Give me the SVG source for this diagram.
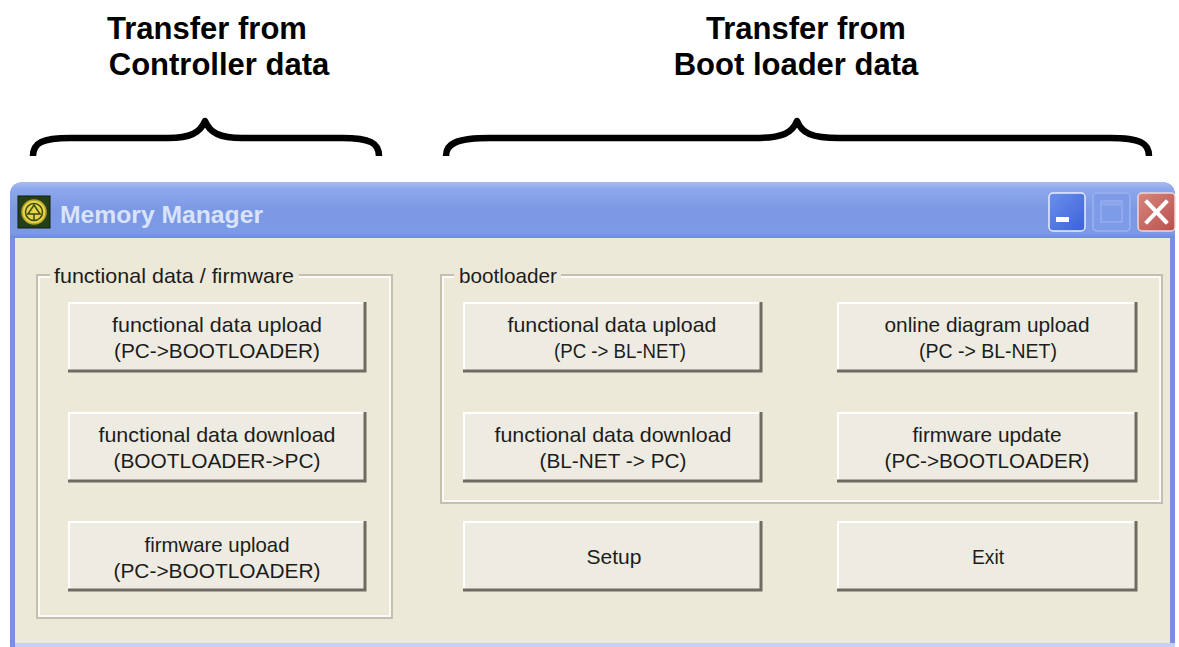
<svg xmlns="http://www.w3.org/2000/svg" width="1179" height="647" viewBox="0 0 1179 647">
<defs>
<linearGradient id="tb" x1="0" y1="0" x2="0" y2="1">
<stop offset="0" stop-color="#A9BCF2"/>
<stop offset="0.12" stop-color="#8DA8EC"/>
<stop offset="0.5" stop-color="#7C98E4"/>
<stop offset="0.9" stop-color="#7D9AE6"/>
<stop offset="1" stop-color="#6F8CDC"/>
</linearGradient>
<linearGradient id="minb" x1="0" y1="0" x2="1" y2="1">
<stop offset="0" stop-color="#6C90EE"/>
<stop offset="1" stop-color="#3A62D6"/>
</linearGradient>
<linearGradient id="clsb" x1="0" y1="0" x2="1" y2="1">
<stop offset="0" stop-color="#D7867A"/>
<stop offset="1" stop-color="#B85050"/>
</linearGradient>
</defs>
<style>
.hdr{font-family:"Liberation Sans",Arial,sans-serif;font-weight:bold;font-size:31px;fill:#000;text-anchor:middle}
.brace{fill:none;stroke:#000;stroke-width:6.5;stroke-linecap:butt;stroke-linejoin:round}
.face{fill:#EEECE2}
.hi{fill:none;stroke:#FFFFFF;stroke-width:2}
.sh{fill:none;stroke:#6E6C62;stroke-width:3}
.bt{font-family:"Liberation Sans",Arial,sans-serif;font-size:21px;fill:#1C1C1C;text-anchor:middle}
.gl{font-family:"Liberation Sans",Arial,sans-serif;font-size:21px;fill:#1C1C1C}
.g1{fill:none;stroke:#C2C0B0;stroke-width:2}
.g2{fill:none;stroke:#FFFFFF;stroke-width:1.5}
</style>
<rect x="0" y="0" width="1179" height="647" fill="#FFFFFF"/>

<g id="header-left">
<text class="hdr" x="207" y="39">Transfer from</text>
<text class="hdr" x="219" y="75">Controller data</text>
<path class="brace" d="M33 156 C33 143 42 138 70 138 L168 138 C190 138 200 133 205 121 C210 133 220 138 242 138 L342 138 C370 138 379 143 379 156"/>
</g>
<g id="header-right">
<text class="hdr" x="806" y="39">Transfer from</text>
<text class="hdr" x="796" y="75">Boot loader data</text>
<path class="brace" d="M446 156 C446 143 458 138 490 138 L755 138 C783 138 792 133 797 121 C802 133 811 138 839 138 L1110 138 C1140 138 1149 143 1149 156"/>
</g>

<g id="window">
<path d="M10 196 Q10 182 24 182 L1161 182 Q1175 182 1175 196 L1175 647 L10 647 Z" fill="#7A8FDE"/>
<path d="M10 196 Q10 182 24 182 L1161 182 Q1175 182 1175 196 L1175 238 L10 238 Z" fill="url(#tb)"/>
<rect x="15" y="238" width="1155" height="405" fill="#ECE9D8"/>
<rect x="15" y="643" width="1160" height="4" fill="#C7CFF2"/>
<g id="icon">
<rect x="18" y="196" width="32" height="32" fill="#24401A" stroke="#0E1E08" stroke-width="1"/>
<circle cx="34" cy="212" r="12" fill="#E6D54A" stroke="#B9A22A" stroke-width="1.5"/>
<circle cx="34" cy="212" r="8.5" fill="none" stroke="#3A4A10" stroke-width="1.5"/>
<path d="M28 214 L34 205 L40 214 M27 214 L41 214 M34 214 L34 220" fill="none" stroke="#3A4A10" stroke-width="1.5"/>
</g>
<text x="60" y="223" font-family="Liberation Sans,Arial,sans-serif" font-weight="bold" font-size="24.5" fill="#D9E4FA" textLength="203" lengthAdjust="spacingAndGlyphs">Memory Manager</text>
<g id="btn-min">
<rect x="1049" y="193" width="36" height="38" rx="4" fill="url(#minb)" stroke="#E8EEFF" stroke-width="1.5"/>
<rect x="1056" y="217" width="13" height="5" fill="#FFFFFF"/>
</g>
<g id="btn-max">
<rect x="1093" y="193" width="37" height="38" rx="4" fill="#7E9BE8" stroke="#9AB2F0" stroke-width="1.5"/>
<rect x="1101" y="201" width="21" height="21" fill="none" stroke="#90A9EE" stroke-width="2"/>
<line x1="1101" y1="204" x2="1122" y2="204" stroke="#90A9EE" stroke-width="3"/>
</g>
<g id="btn-close">
<rect x="1138" y="193" width="37" height="38" rx="4" fill="url(#clsb)" stroke="#F0D8D8" stroke-width="1.5"/>
<path d="M1147 202 L1166 222 M1166 202 L1147 222" stroke="#FFFFFF" stroke-width="4" stroke-linecap="square"/>
</g>
</g>

<g id="group-functional">
<rect class="g1" x="37" y="275" width="355" height="343"/>
<rect class="g2" x="39" y="277" width="351" height="339"/>
<rect x="50" y="266" width="249" height="16" fill="#ECE9D8"/>
<text class="gl" x="54" y="283" textLength="240" lengthAdjust="spacingAndGlyphs">functional data / firmware</text>
</g>
<g id="group-bootloader">
<rect class="g1" x="441" y="275" width="721" height="228"/>
<rect class="g2" x="443" y="277" width="717" height="224"/>
<rect x="454" y="266" width="107" height="16" fill="#ECE9D8"/>
<text class="gl" x="459" y="283" textLength="98" lengthAdjust="spacingAndGlyphs">bootloader</text>
</g>

<g id="btn-fd-upload-pc">
<rect class="face" x="68" y="302" width="298" height="70"/>
<polyline class="hi" points="69,371 69,303 365,303"/>
<polyline class="sh" points="68,371 365,371 365,302"/>
<text class="bt" x="217" y="332" textLength="210" lengthAdjust="spacingAndGlyphs">functional data upload</text>
<text class="bt" x="217" y="358" textLength="206" lengthAdjust="spacingAndGlyphs">(PC-&gt;BOOTLOADER)</text>
</g>
<g id="btn-fd-download-pc">
<rect class="face" x="68" y="412" width="298" height="70"/>
<polyline class="hi" points="69,481 69,413 365,413"/>
<polyline class="sh" points="68,481 365,481 365,412"/>
<text class="bt" x="217" y="442" textLength="237" lengthAdjust="spacingAndGlyphs">functional data download</text>
<text class="bt" x="217" y="468" textLength="207" lengthAdjust="spacingAndGlyphs">(BOOTLOADER-&gt;PC)</text>
</g>
<g id="btn-fw-upload">
<rect class="face" x="68" y="521" width="298" height="70"/>
<polyline class="hi" points="69,590 69,522 365,522"/>
<polyline class="sh" points="68,590 365,590 365,521"/>
<text class="bt" x="217" y="552" textLength="145" lengthAdjust="spacingAndGlyphs">firmware upload</text>
<text class="bt" x="217" y="578" textLength="207" lengthAdjust="spacingAndGlyphs">(PC-&gt;BOOTLOADER)</text>
</g>

<g id="btn-bl-fd-upload">
<rect class="face" x="463" y="302" width="299" height="70"/>
<polyline class="hi" points="464,371 464,303 761,303"/>
<polyline class="sh" points="463,371 761,371 761,302"/>
<text class="bt" x="612" y="332" textLength="209" lengthAdjust="spacingAndGlyphs">functional data upload</text>
<text class="bt" x="620" y="358" textLength="132" lengthAdjust="spacingAndGlyphs">(PC -&gt; BL-NET)</text>
</g>
<g id="btn-bl-fd-download">
<rect class="face" x="463" y="412" width="299" height="70"/>
<polyline class="hi" points="464,481 464,413 761,413"/>
<polyline class="sh" points="463,481 761,481 761,412"/>
<text class="bt" x="613" y="442" textLength="237" lengthAdjust="spacingAndGlyphs">functional data download</text>
<text class="bt" x="613" y="468" textLength="147" lengthAdjust="spacingAndGlyphs">(BL-NET -&gt; PC)</text>
</g>
<g id="btn-online-upload">
<rect class="face" x="837" y="302" width="300" height="70"/>
<polyline class="hi" points="838,371 838,303 1136,303"/>
<polyline class="sh" points="837,371 1136,371 1136,302"/>
<text class="bt" x="987" y="332" textLength="205" lengthAdjust="spacingAndGlyphs">online diagram upload</text>
<text class="bt" x="988" y="358" textLength="138" lengthAdjust="spacingAndGlyphs">(PC -&gt; BL-NET)</text>
</g>
<g id="btn-fw-update">
<rect class="face" x="837" y="412" width="300" height="70"/>
<polyline class="hi" points="838,481 838,413 1136,413"/>
<polyline class="sh" points="837,481 1136,481 1136,412"/>
<text class="bt" x="987" y="442" textLength="149" lengthAdjust="spacingAndGlyphs">firmware update</text>
<text class="bt" x="987" y="468" textLength="205" lengthAdjust="spacingAndGlyphs">(PC-&gt;BOOTLOADER)</text>
</g>
<g id="btn-setup">
<rect class="face" x="463" y="521" width="299" height="70"/>
<polyline class="hi" points="464,590 464,522 761,522"/>
<polyline class="sh" points="463,590 761,590 761,521"/>
<text class="bt" x="614" y="564" textLength="55" lengthAdjust="spacingAndGlyphs">Setup</text>
</g>
<g id="btn-exit">
<rect class="face" x="837" y="521" width="300" height="70"/>
<polyline class="hi" points="838,590 838,522 1136,522"/>
<polyline class="sh" points="837,590 1136,590 1136,521"/>
<text class="bt" x="988" y="564" textLength="32" lengthAdjust="spacingAndGlyphs">Exit</text>
</g>
<g id="connectors"/>
</svg>
